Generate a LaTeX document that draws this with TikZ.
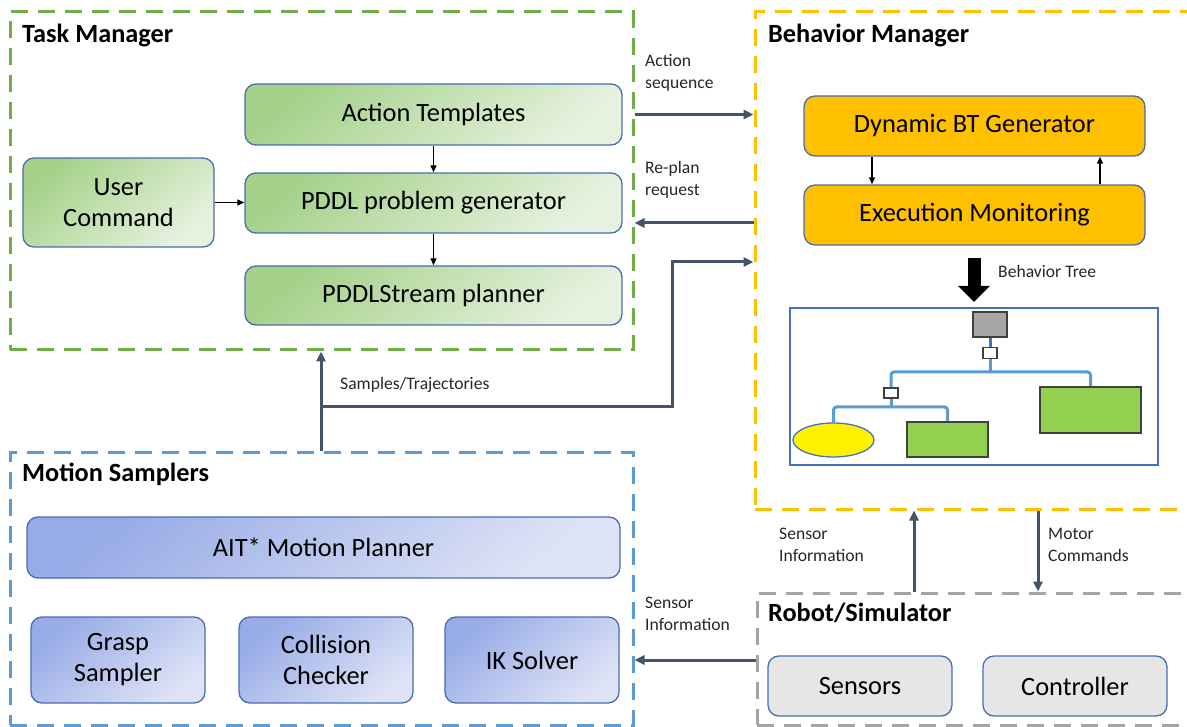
\documentclass[tikz,border=0pt]{standalone}
\usepackage{fontspec}
\setmainfont{Carlito}
\usetikzlibrary{arrows.meta,shapes.geometric}

\definecolor{tmgreen}{HTML}{70AD47}
\definecolor{bmorange}{HTML}{FFC000}
\definecolor{msblue}{HTML}{5B9BD5}
\definecolor{rsgray}{HTML}{A5A5A5}
\definecolor{connc}{HTML}{44546A}
\definecolor{boxedge}{HTML}{4A6DB0}
\definecolor{gdark}{HTML}{A5D18A}
\definecolor{glight}{HTML}{E6F2DF}
\definecolor{bdark}{HTML}{97ABE6}
\definecolor{blight}{HTML}{DEE3F6}
\definecolor{boxgray}{HTML}{E6E6E6}
\definecolor{btgreen}{HTML}{92D050}
\definecolor{btgray}{HTML}{A6A6A6}
\definecolor{treeblue}{HTML}{5B9BD5}
\definecolor{btframe}{HTML}{4472C4}

\begin{document}
\begin{tikzpicture}[x=1pt,y=-1pt,
  frame/.style={draw, line width=3pt, dash pattern=on 17pt off 10pt, inner sep=0pt},
  title/.style={anchor=west, font=\fontsize{26.3}{30}\selectfont\bfseries, inner sep=0pt},
  box/.style={draw=boxedge, line width=1.3pt, rounded corners=11pt, align=center,
    font=\fontsize{26.4}{31}\selectfont, inner sep=0pt},
  greenbox/.style={box, top color=gdark, bottom color=glight, shading angle=40},
  bluebox/.style={box, top color=bdark, bottom color=blight, shading angle=40},
  orangebox/.style={box, fill=bmorange},
  graybox/.style={box, fill=boxgray},
  lbl/.style={anchor=west, align=left, font=\fontsize{17.6}{22}\selectfont, inner sep=0pt, text=black!85},
  conn/.style={draw=connc, line width=3pt, -{Triangle[length=10pt,width=9pt]}},
  thinarrow/.style={draw=black, line width=1.2pt, -{Triangle[length=7pt,width=6pt]}},
  tree/.style={draw=treeblue, line width=3pt, rounded corners=3pt},
  btnode/.style={draw=black!75, line width=1.5pt, inner sep=0pt},
]
\useasboundingbox (0,0) rectangle (1187,727);
\clip (0,0) rectangle (1187,727);

% ---------- group frames ----------
\node[frame, draw=tmgreen, minimum width=623pt, minimum height=338pt] (tm) at (321.5,181) {};
\node[frame, draw=bmorange, minimum width=445pt, minimum height=497pt] (bm) at (977.5,260.5) {};
\node[frame, draw=msblue, minimum width=623pt, minimum height=273pt] (ms) at (321.5,588.5) {};
\node[frame, draw=rsgray, minimum width=443pt, minimum height=132pt] (rs) at (978.5,659) {};

\node[title] (tmt) at (22,36) {Task Manager};
\node[title] (bmt) at (768,36) {Behavior Manager};
\node[title] (mst) at (22,474) {Motion Samplers};
\node[title] (rst) at (768,613) {Robot/Simulator};

% ---------- Task Manager ----------
\node[greenbox, minimum width=377pt, minimum height=61pt] (at) at (433.5,114.5) {Action Templates};
\node[greenbox, minimum width=377pt, minimum height=60pt] (pg) at (433.5,203) {PDDL problem generator};
\node[greenbox, minimum width=377pt, minimum height=59pt] (ps) at (433.5,295.5) {PDDLStream planner};
\node[greenbox, minimum width=191pt, minimum height=89pt] (uc) at (118.5,202.5) {User\\Command};

\draw[thinarrow] (at) -- (pg);
\draw[thinarrow] (pg) -- (ps);
\draw[thinarrow] (uc) -- (uc -| pg.west);

% ---------- Behavior Manager ----------
\node[orangebox, minimum width=341pt, minimum height=60pt] (dbt) at (974.5,126) {Dynamic BT Generator};
\node[orangebox, minimum width=341pt, minimum height=60pt] (em) at (974.5,215) {Execution Monitoring};

\coordinate (dn) at (872,0);
\coordinate (up) at (1100,0);
\draw[thinarrow] (dbt.south -| dn) -- (em.north -| dn);
\draw[thinarrow] (em.north -| up) -- (dbt.south -| up);

% behaviour tree sketch
\node[draw=btframe, line width=1.3pt, minimum width=368pt, minimum height=157pt, inner sep=0pt] (bt) at (974,386.5) {};
\coordinate (bta) at (974,258);
\coordinate (btb) at (974,302);
\draw[line width=13pt, -{Triangle[length=16pt,width=31pt]}] (bta) -- (btb);
\node[lbl] (btl) at (998,271) {Behavior Tree};

\node[btnode, fill=btgray, minimum width=34pt, minimum height=25pt] (root) at (990,324.5) {};
\node[btnode, fill=white, minimum width=14pt, minimum height=11pt] (d1) at (990,353) {};
\node[btnode, fill=white, minimum width=14pt, minimum height=10pt] (d2) at (891,393) {};
\node[btnode, fill=btgreen, minimum width=101pt, minimum height=46pt] (lr) at (1090.5,410) {};
\node[btnode, fill=btgreen, minimum width=81pt, minimum height=35pt] (ll) at (947.5,439.5) {};
\node[ellipse, draw=btframe, line width=1.3pt, fill=yellow, minimum width=81pt, minimum height=34pt, inner sep=0pt] (el) at (833.5,440) {};

\coordinate (j1) at (990,372);
\coordinate (j2) at (891,407);
\draw[draw=btframe, line width=3pt] (root.south) -- (d1.north);
\draw[tree] (d2.north) |- (j1) -| (lr.north);
\draw[tree] (d1.south) -- (j1);
\draw[tree] (el.north) |- (j2) -| (ll.north);
\draw[tree] (d2.south) -- (j2);

% ---------- Motion Samplers ----------
\node[bluebox, minimum width=593pt, minimum height=61pt] (ait) at (323.5,547.5) {AIT* Motion Planner};
\node[bluebox, minimum width=174pt, minimum height=86pt] (gs) at (118,660) {Grasp\\Sampler};
\node[bluebox, minimum width=174pt, minimum height=86pt] (cc) at (326,660) {Collision\\Checker};
\node[bluebox, minimum width=174pt, minimum height=86pt] (ik) at (532,660) {IK Solver};

% ---------- Robot / Simulator ----------
\node[graybox, minimum width=184pt, minimum height=60pt] (sen) at (860,686) {Sensors};
\node[graybox, minimum width=184pt, minimum height=60pt] (ctl) at (1075,686) {Controller};

% ---------- connectors between groups ----------
\coordinate (rp) at (0,223);
\coordinate (si) at (0,660);
\coordinate (sx) at (914,0);
\coordinate (mx) at (1038,0);
\coordinate (split) at (321,407);
\coordinate (bend) at (672,407);
\coordinate (tin) at (0,262);

\draw[conn] (tm.east |- at) -- (bm.west |- at);
\draw[conn] (bm.west |- rp) -- (tm.east |- rp);
\draw[conn] (rs.west |- si) -- (ms.east |- si);
\draw[conn] (rs.north -| sx) -- (bm.south -| sx);
\draw[conn] (bm.south -| mx) -- (rs.north -| mx);
\draw[conn] (ms.north -| split) -- (tm.south -| split);
\draw[conn] (split) -- (bend) |- (bm.west |- tin);

\node[lbl] (l1) at (645,73) {Action\\sequence};
\node[lbl] (l2) at (645,180) {Re-plan\\request};
\node[lbl] (l3) at (645,614) {Sensor\\Information};
\node[lbl] (l4) at (779,545) {Sensor\\Information};
\node[lbl] (l5) at (1048,545) {Motor\\Commands};
\node[lbl] (l6) at (340,385) {Samples/Trajectories};
\end{tikzpicture}
\end{document}
